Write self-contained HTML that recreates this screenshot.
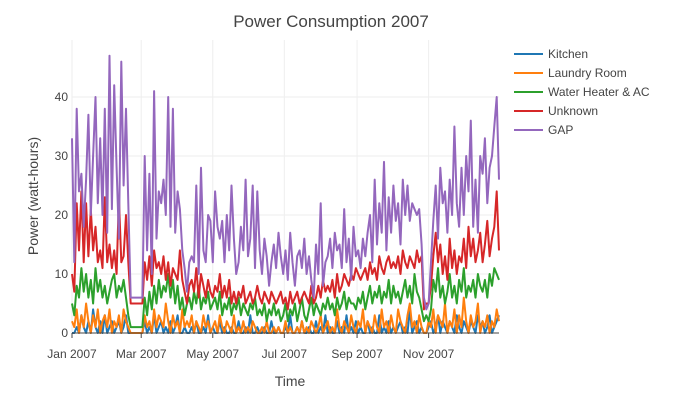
<!DOCTYPE html>
<html><head><meta charset="utf-8"><style>
body{margin:0;background:#fff;}
svg text{font-family:"Liberation Sans",sans-serif;fill:#444;}
</style></head><body>
<svg id="chart" width="691" height="402" xmlns="http://www.w3.org/2000/svg">
<text x="331" y="27" text-anchor="middle" font-size="17">Power Consumption 2007</text>
<g id="grid"></g>
<g id="series"></g>
<g id="axes"></g>
<text x="290" y="386" text-anchor="middle" font-size="14">Time</text>
<text transform="translate(38,196) rotate(-90)" text-anchor="middle" font-size="14">Power (watt-hours)</text>
<g id="legend"></g>
</svg>
<script>
const seriesNames=["Kitchen","Laundry Room","Water Heater & AC","Unknown","GAP"];
const colors=["#1f77b4","#ff7f0e","#2ca02c","#d62728","#9467bd"];
const dayStep=2;
const yTicks=[0,10,20,30,40];
const xTickDays=[0,59,120,181,243,304];
const xTickLabels=["Jan 2007","Mar 2007","May 2007","Jul 2007","Sep 2007","Nov 2007"];
const kitchen=[0,0,1,0,3,1,0,2,0,4,1,0,2,0,3,0,1,2,0,1,2,0,1,3,0,0,0,0,0,0,0,2,0,1,0,3,0,1,2,0,1,0,2,0,1,3,0,0,1,0,
0,1,0,2,0,0,1,0,3,0,1,0,0,2,0,1,0,0,1,0,0,2,0,0,1,0,3,0,0,1,0,0,1,0,0,2,0,0,1,0,0,1,0,3,0,0,1,0,2,0,
0,1,0,0,2,0,1,0,3,0,1,0,0,2,0,1,0,3,0,1,0,2,0,1,0,0,2,0,1,0,0,3,0,1,0,2,0,1,0,1,2,0,1,0,4,0,1,2,0,1,
0,0,1,2,0,1,3,0,2,1,0,2,1,0,3,1,0,2,1,0,2,1,0,3,1,2,0,1,3,0,1,2,3];
const laundry=[2,1,4,0,3,1,5,2,0,3,1,4,0,2,3,1,4,0,2,1,3,0,4,2,1,0,0,0,0,0,0,3,1,2,0,4,1,3,2,1,5,2,0,3,1,2,0,4,1,2,
1,3,0,2,1,0,3,1,2,0,1,2,0,3,1,0,2,1,0,3,0,1,0,2,0,1,0,2,1,0,0,1,0,2,0,0,1,0,1,0,0,2,0,1,0,0,1,0,2,0,
1,0,2,1,0,1,3,0,1,2,0,1,0,4,1,0,2,1,0,3,1,0,2,1,4,0,2,1,0,3,1,0,4,1,2,0,3,1,0,4,2,1,0,3,5,1,2,0,3,1,
0,0,2,1,4,0,3,2,1,5,0,2,1,4,0,3,1,6,2,0,3,1,2,5,0,2,1,3,0,2,1,4,2];
const waterHeater=[5,3,8,6,11,7,10,6,9,5,11,7,9,6,8,5,7,9,10,6,8,7,9,6,3,1,1,1,1,1,1,6,3,7,4,8,5,9,6,8,7,10,6,9,5,8,4,6,3,5,
6,4,7,5,8,4,6,5,7,4,5,6,4,7,3,5,4,6,3,5,4,6,3,5,4,3,5,4,6,3,4,3,5,2,4,3,5,3,4,2,3,5,2,4,3,5,2,4,6,3,
2,4,6,3,5,4,3,5,4,6,4,5,3,6,4,5,7,4,6,5,5,4,6,5,7,4,6,8,5,7,6,8,5,7,6,9,5,8,6,7,5,7,9,6,8,5,10,7,6,4,
2,3,2,4,9,7,11,6,8,5,7,10,6,8,5,9,7,11,6,8,7,9,6,10,8,7,9,6,10,8,11,10,9];
const unknown=[10,7,22,14,24,12,22,13,21,14,18,12,14,11,23,12,15,11,14,10,23,12,13,20,12,5,5,5,5,5,5,12,9,13,8,14,11,12,10,13,9,12,8,11,10,9,14,9,7,5,
8,9,7,11,6,10,8,6,9,7,6,8,7,10,6,8,6,9,5,7,5,7,6,8,5,6,7,5,6,8,6,5,7,6,5,7,6,5,6,7,5,6,4,7,5,6,7,5,6,7,
6,5,8,5,6,8,6,9,7,8,7,9,6,10,7,8,10,9,8,10,9,11,10,9,10,11,9,12,10,11,9,13,11,10,12,13,11,12,11,13,10,14,12,11,13,12,11,14,12,13,
4,5,5,8,13,17,12,15,10,13,9,16,11,14,10,13,12,16,11,18,13,16,12,14,17,12,15,19,13,16,18,24,14];
const gap=[33,12,38,24,27,18,26,37,20,30,40,22,33,20,38,17,47,21,42,28,16,46,25,38,22,6,6,6,6,6,6,30,14,27,10,41,16,24,22,26,20,40,18,38,17,24,21,14,11,7,
12,13,12,25,10,28,14,12,20,19,12,24,18,16,19,12,20,14,25,16,10,12,18,14,26,13,16,25,11,24,14,10,16,13,8,12,15,11,17,13,10,14,9,17,12,8,13,14,11,16,
10,13,9,6,15,10,22,8,12,13,16,11,17,14,15,11,21,12,16,9,18,13,14,11,16,13,17,20,12,26,15,22,17,29,14,23,17,25,19,22,15,26,20,25,19,22,21,20,21,15,
6,4,5,12,19,25,16,28,22,24,17,26,20,35,22,18,28,20,30,24,36,18,26,17,30,27,33,22,28,30,35,40,26];
const allSeries=[kitchen,laundry,waterHeater,unknown,gap];
const NS="http://www.w3.org/2000/svg";
const X0=72,X1=499,Y0=333,PX_PER_UNIT=5.9,PX_PER_DAY=(X1-X0)/364;
function xScale(day){return X0+day*PX_PER_DAY;}
function yScale(v){return Y0-v*PX_PER_UNIT;}
function mk(tag,attrs){const e=document.createElementNS(NS,tag);for(const k in attrs)e.setAttribute(k,attrs[k]);return e;}
const grid=document.getElementById('grid'),axes=document.getElementById('axes'),ser=document.getElementById('series'),leg=document.getElementById('legend');
yTicks.forEach(t=>{
  if(t>0){const l=mk('line',{x1:X0,x2:X1,y1:yScale(t),y2:yScale(t),stroke:'#eee','stroke-width':1});
  
  
  grid.appendChild(l);}
  const tx=mk('text',{x:X0-4,y:yScale(t)+4,'text-anchor':'end','font-size':12});
  tx.textContent=t;
  
  
  axes.appendChild(tx);
});
xTickDays.forEach((d,i)=>{
  const l=mk('line',{x1:xScale(d),x2:xScale(d),y1:40,y2:Y0,stroke:'#eee','stroke-width':1});
  
  
  grid.appendChild(l);
  const tk=mk('line',{x1:xScale(d),x2:xScale(d),y1:Y0,y2:Y0+5,stroke:'#444','stroke-width':1});
  
  
  axes.appendChild(tk);
  const tx=mk('text',{x:xScale(d),y:Y0+25,'text-anchor':'middle','font-size':12});
  tx.textContent=xTickLabels[i];
  
  
  axes.appendChild(tx);
});
allSeries.forEach((arr,s)=>{
  const pts=arr.map((v,i)=>xScale(i*dayStep>364?364:i*dayStep).toFixed(1)+','+yScale(v).toFixed(1)).join(' ');
  const p=mk('polyline',{points:pts,fill:'none',stroke:colors[s],'stroke-width':2,'stroke-linejoin':'round'});
  
  
  ser.appendChild(p);
});
const ax=mk('line',{x1:X0,x2:X1,y1:Y0,y2:Y0,stroke:'#444','stroke-width':1});


axes.appendChild(ax);
seriesNames.forEach((n,i)=>{
  const g=mk('g',{});
  
  
  const y=54+i*19;
  g.appendChild(mk('line',{x1:514,x2:543,y1:y,y2:y,stroke:colors[i],'stroke-width':2}));
  const t=mk('text',{x:548,y:y+4,'font-size':12});
  t.textContent=n;
  g.appendChild(t);
  leg.appendChild(g);
});
</script>
</body></html>
